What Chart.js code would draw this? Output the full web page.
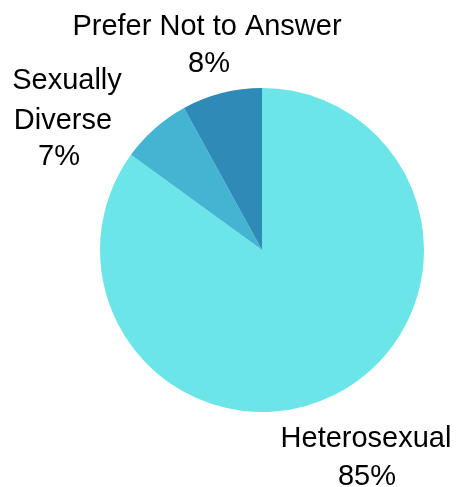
<!DOCTYPE html>
<html>
<head>
<meta charset="utf-8">
<script src="https://cdn.jsdelivr.net/npm/chart.js@4/dist/chart.umd.min.js"></script>
<style>
  html, body { margin: 0; padding: 0; background: #ffffff; }
  #wrap { width: 456px; height: 487px; position: relative; }
</style>
</head>
<body>
<div id="wrap"><canvas id="c" width="456" height="487"></canvas></div>
<script>
// Survey responses: sexual orientation (percent of respondents)
const categories = ['Heterosexual', 'Sexually Diverse', 'Prefer Not to Answer'];
const percents = [85, 7, 8];
const sliceColors = ['#6BE5E8', '#43B5D3', '#2E8BB8'];

// Multi-line category captions as drawn next to the pie
const captionLines = [['Heterosexual'], ['Sexually', 'Diverse'], ['Prefer Not to Answer']];

// Caption layout: centre x and baseline y for each line (value line last)
const captionPlacement = [
  { xs: [366, 367], ys: [447, 485] },
  { xs: [67, 63, 59], ys: [89, 129, 165] },
  { xs: [207, 209], ys: [35, 72] }
];

const outsideLabels = {
  id: 'outsideLabels',
  afterDatasetsDraw(chart) {
    const ctx = chart.ctx;
    const meta = chart.getDatasetMeta(0);
    ctx.save();
    ctx.fillStyle = '#000000';
    ctx.font = '29px "Liberation Sans", Arial, sans-serif';
    ctx.textAlign = 'center';
    ctx.textBaseline = 'alphabetic';
    meta.data.forEach((arc, i) => {
      const p = captionPlacement[i];
      const lines = captionLines[i].concat([chart.data.datasets[0].data[i] + '%']);
      lines.forEach((t, k) => ctx.fillText(t, p.xs[k], p.ys[k]));
    });
    ctx.restore();
  }
};

new Chart(document.getElementById('c'), {
  type: 'pie',
  data: {
    labels: categories,
    datasets: [{
      data: percents,
      backgroundColor: sliceColors,
      borderWidth: 0
    }]
  },
  options: {
    responsive: false,
    animation: false,
    layout: { padding: { left: 100, right: 32, top: 88, bottom: 75 } },
    plugins: {
      legend: { display: false },
      tooltip: { enabled: false }
    }
  },
  plugins: [outsideLabels]
});
</script>
</body>
</html>
